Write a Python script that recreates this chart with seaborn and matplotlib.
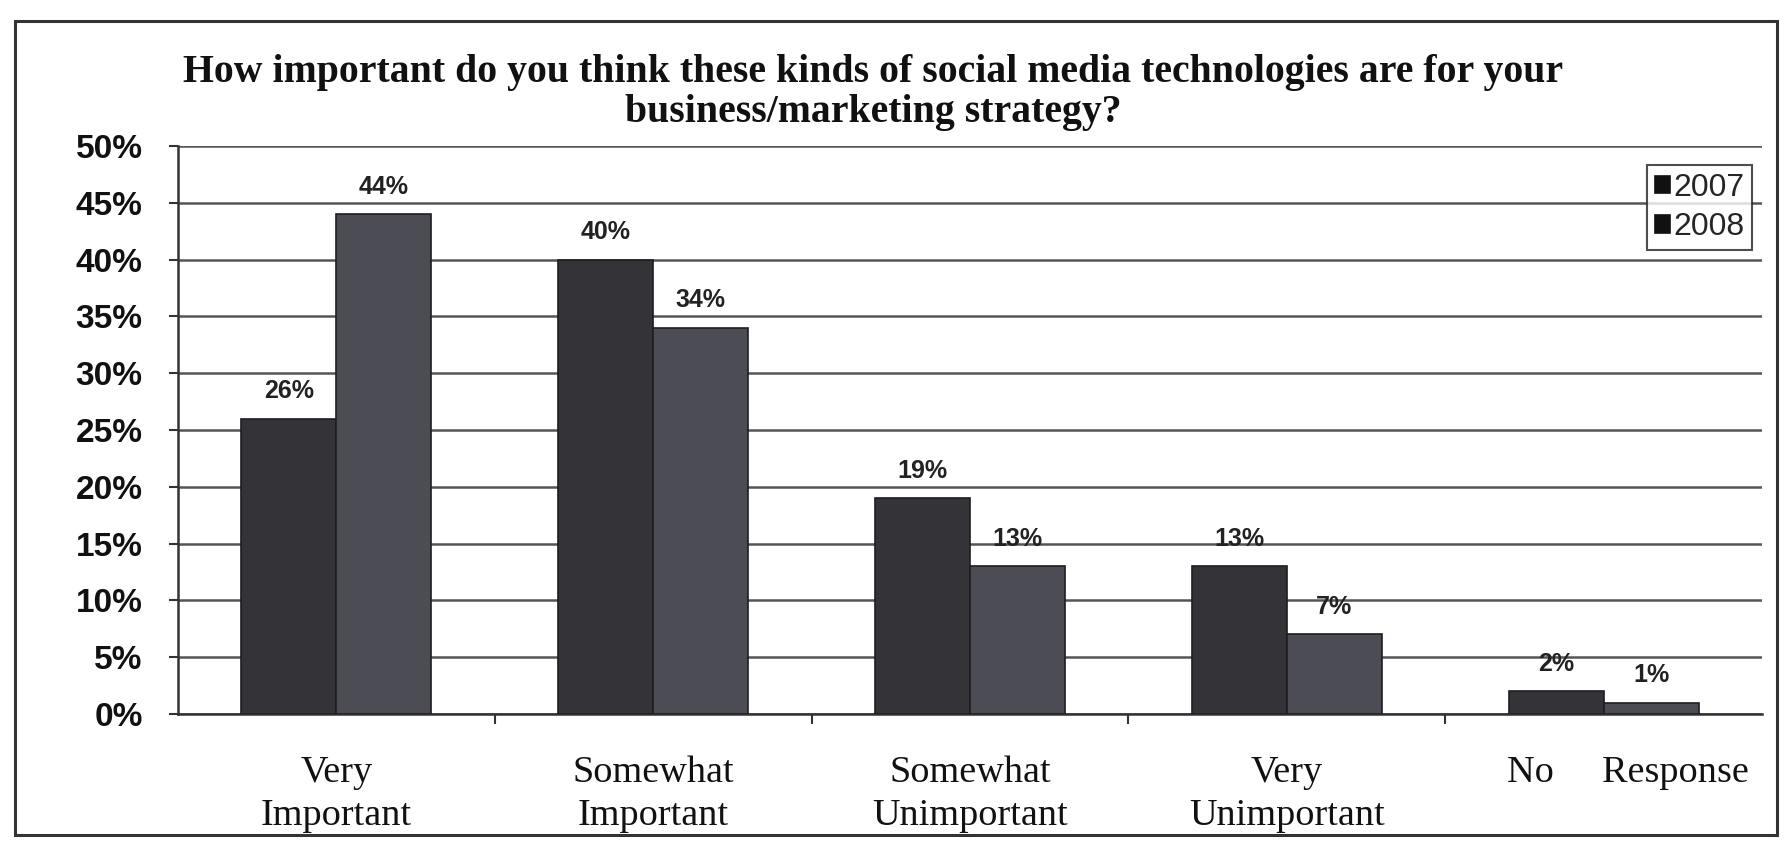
import matplotlib
matplotlib.use("Agg")
import matplotlib.pyplot as plt
from matplotlib.patches import Rectangle
from matplotlib.ticker import FixedLocator
from matplotlib.transforms import ScaledTranslation
import pandas as pd
import seaborn as sns

# Survey responses (percent of respondents)
categories = ["Very\nImportant", "Somewhat\nImportant", "Somewhat\nUnimportant",
              "Very\nUnimportant", "No     Response"]
years = ["2007", "2008"]
values_2007 = [26, 40, 19, 13, 2]
values_2008 = [44, 34, 13, 7, 1]
y_ticks = [0, 5, 10, 15, 20, 25, 30, 35, 40, 45, 50]
title = ("How important do you think these kinds of social media technologies are for your\n"
         "business/marketing strategy?")

df = pd.DataFrame({
    "category": categories * 2,
    "year": [years[0]] * len(categories) + [years[1]] * len(categories),
    "value": values_2007 + values_2008,
})

sns.set_theme(style="white")
plt.rcParams["font.family"] = ["Liberation Sans", "DejaVu Sans"]
serif = ["Liberation Serif", "DejaVu Serif"]

fig = plt.figure(figsize=(17.84, 8.42), dpi=100)
fig.patch.set_facecolor("white")
ax = fig.add_axes([178 / 1784, 1 - 714 / 842, (1762 - 178) / 1784, (714 - 146) / 842])

palette = {"2007": "#333338", "2008": "#4c4c55"}
sns.barplot(data=df, x="category", y="value", hue="year", order=categories,
            hue_order=years, palette=palette, width=0.6, saturation=1,
            edgecolor="#1e1e22", linewidth=1.2, ax=ax, zorder=3)

# value labels above each bar
for cont, vals in zip(ax.containers, [values_2007, values_2008]):
    ax.bar_label(cont, labels=[f"{v}%" for v in vals], padding=11,
                 fontsize=18, fontweight="bold", color="#222222")

ax.set_ylim(0, 50)
ax.set_xlim(-0.5, len(categories) - 0.5)
ax.yaxis.set_major_locator(FixedLocator(y_ticks))
ax.set_yticklabels([f"{t}%" for t in y_ticks], fontsize=24, fontweight="bold", color="#111111")
ax.grid(axis="y", color="#555555", linewidth=1.8, zorder=0)
ax.set_axisbelow(True)

ax.set_xticks(range(len(categories)))
ax.set_xticklabels(categories, fontsize=27.5, family=serif, color="#111111", linespacing=1.3)
ax.tick_params(axis="x", which="major", length=0, pad=30)
ax.xaxis.set_minor_locator(FixedLocator([i + 0.5 for i in range(len(categories) - 1)]))
ax.tick_params(axis="x", which="minor", length=7, width=1.5, color="#333333", direction="out",
               bottom=True)
ax.tick_params(axis="y", length=6.5, width=1.5, color="#333333", direction="out", left=True,
               pad=19)

# the one-line label sits a little right of its category centre
last = ax.get_xticklabels()[-1]
last.set_transform(last.get_transform() + ScaledTranslation(0.24, 0, fig.dpi_scale_trans))

for side in ["top", "right"]:
    ax.spines[side].set_visible(False)
for side in ["left", "bottom"]:
    ax.spines[side].set_color("#333333")
    ax.spines[side].set_linewidth(1.8)

ax.set_xlabel("")
ax.set_ylabel("")

leg = ax.legend(loc="upper right", bbox_to_anchor=(0.994, 0.967), borderaxespad=0,
                fontsize=23, frameon=True, fancybox=False, handlelength=0.45,
                handleheight=0.45, handletextpad=0.12, borderpad=0.25, labelspacing=0.3)
leg.get_frame().set_edgecolor("#222222")
leg.get_frame().set_linewidth(1.5)
for h in leg.legend_handles:
    h.set_color("#111111")

fig.text(873 / 1784, 1 - 54 / 842, title, ha="center", va="top", fontsize=28.6,
         fontweight="bold", family=serif, color="#111111", linespacing=1.12)

# chart border
fig.patches.append(Rectangle((15 / 1784, 7 / 842), 1762 / 1784, (836 - 22) / 842,
                             transform=fig.transFigure, fill=False, edgecolor="#333333",
                             linewidth=2.2))

fig.savefig("out.png", dpi=100, facecolor="white")
